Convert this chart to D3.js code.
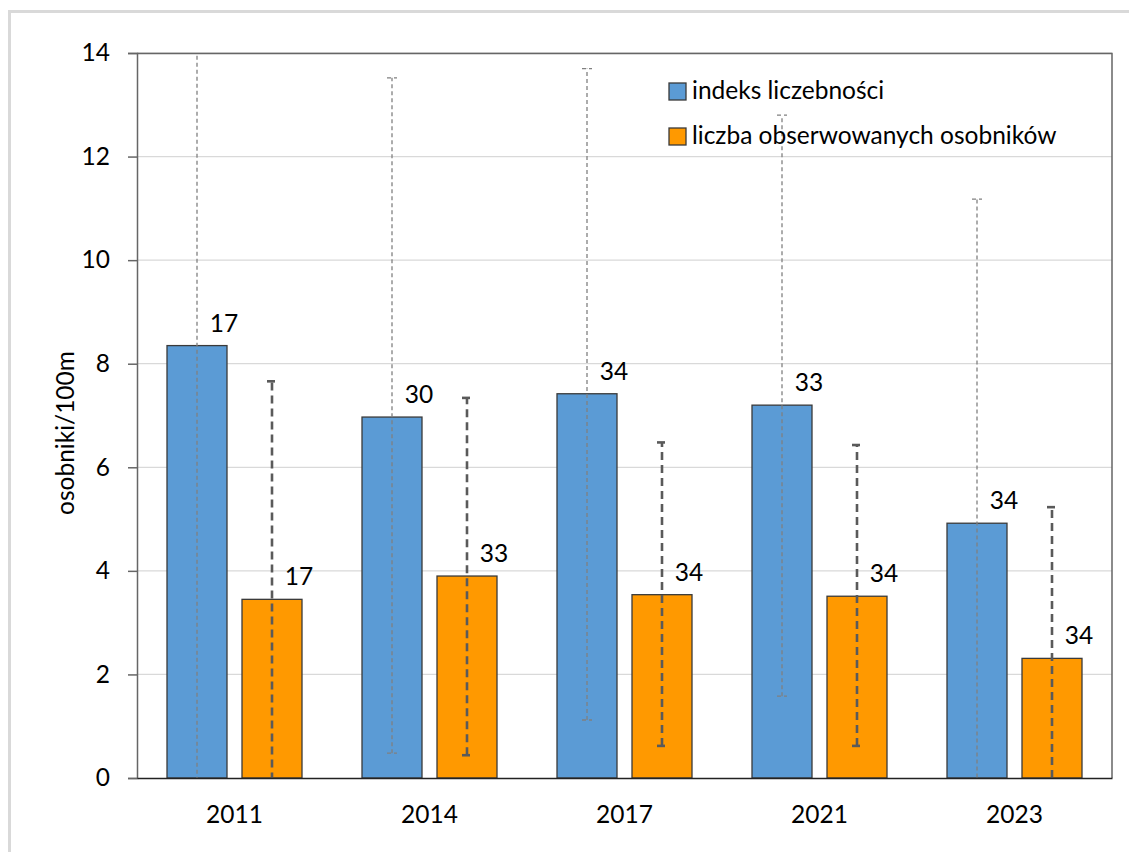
<!DOCTYPE html>
<html>
<head>
<meta charset="utf-8">
<script src="https://cdn.jsdelivr.net/npm/d3@7"></script>
<style>
  body { margin: 0; background: #fff; }
  svg text { font-family: Lato, "Open Sans", sans-serif; fill: #000; }
</style>
</head>
<body>
<div id="chart"></div>
<script>
// categories and series
const years = ['2011', '2014', '2017', '2021', '2023'];
const seriesNames = ['indeks liczebności', 'liczba obserwowanych osobników'];

const indeks     = [8.35, 6.97, 7.42, 7.20, 4.92];
const indeksLow  = [-1.0, 0.48, 1.12, 1.58, -0.8];
const indeksHigh = [15.5, 13.52, 13.70, 12.80, 11.18];
const indeksN    = [17, 30, 34, 33, 34];

const liczba     = [3.45, 3.90, 3.54, 3.51, 2.31];
const liczbaLow  = [-0.3, 0.44, 0.62, 0.62, -0.5];
const liczbaHigh = [7.66, 7.34, 6.48, 6.43, 5.23];
const liczbaN    = [17, 33, 34, 34, 34];

const yTicks = [0, 2, 4, 6, 8, 10, 12, 14];

// layout
const W = 1129, H = 852;
const margin = { top: 53, right: 17, bottom: 74, left: 137 };
const pw = W - margin.left - margin.right,
      ph = H - margin.top - margin.bottom;

const colors = ['#5b9bd5', '#ff9900'];

const svg = d3.select('#chart').append('svg')
    .attr('width', W)
    .attr('height', H);

// outer chart frame
svg.append('rect')
  .attr('x', 9.5).attr('y', 11.5)
  .attr('width', W + 20).attr('height', H + 20)
  .attr('fill', 'none')
  .attr('stroke', '#d9d9d9')
  .attr('stroke-width', 3);

const g = svg.append('g')
    .attr('transform', `translate(${margin.left},${margin.top})`);

// scales
const x = d3.scaleBand().domain(years).range([0, pw]);
const xs = d3.scaleBand().domain([0, 1])
    .range([x.bandwidth() * 30 / 195, x.bandwidth() * 165 / 195])
    .paddingInner(0.2);
const y = d3.scaleLinear().domain([0, 14]).range([ph, 0]);

// gridlines
g.append('g')
  .selectAll('line')
  .data(yTicks.slice(1))
  .join('line')
    .attr('x1', 0).attr('x2', pw)
    .attr('y1', d => y(d)).attr('y2', d => y(d))
    .attr('stroke', '#d9d9d9')
    .attr('stroke-width', 1.3);

// plot frame (top + right)
g.append('path')
  .attr('d', `M0,0.5H${pw}V${ph}`)
  .attr('fill', 'none')
  .attr('stroke', '#666')
  .attr('stroke-width', 1.5);

// build rows
const rows = years.map((yr, i) => ([
  { yr, s: 0, v: indeks[i], lo: indeksLow[i], hi: indeksHigh[i], n: indeksN[i] },
  { yr, s: 1, v: liczba[i], lo: liczbaLow[i], hi: liczbaHigh[i], n: liczbaN[i] }
])).flat();

const cx = d => x(d.yr) + xs(d.s) + xs.bandwidth() / 2;

// bars
g.append('g')
  .selectAll('rect')
  .data(rows)
  .join('rect')
    .attr('x', d => x(d.yr) + xs(d.s))
    .attr('y', d => y(d.v))
    .attr('width', xs.bandwidth())
    .attr('height', d => y(0) - y(d.v))
    .attr('fill', d => colors[d.s])
    .attr('stroke', '#3a3a3a')
    .attr('stroke-width', 1.3);

// error bars, clipped to the plot area
svg.append('clipPath').attr('id', 'plotclip')
  .append('rect').attr('x', 0).attr('y', 0).attr('width', pw).attr('height', ph);

const errStyle = [
  { stroke: '#808080', width: 1.3, dash: '4,3' },
  { stroke: '#5a5a5a', width: 2.6, dash: '8,5' }
];

const errG = g.append('g').attr('clip-path', 'url(#plotclip)')
  .selectAll('g')
  .data(rows)
  .join('g')
    .attr('stroke', d => errStyle[d.s].stroke)
    .attr('stroke-width', d => errStyle[d.s].width)
    .attr('stroke-dasharray', d => errStyle[d.s].dash)
    .attr('fill', 'none');

errG.append('line')
  .attr('x1', cx).attr('x2', cx)
  .attr('y1', d => y(d.lo)).attr('y2', d => y(d.hi));

errG.append('line')
  .attr('x1', d => cx(d) - 5).attr('x2', d => cx(d) + 5)
  .attr('y1', d => y(d.lo)).attr('y2', d => y(d.lo))
  .attr('stroke-dasharray', null);

errG.append('line')
  .attr('x1', d => cx(d) - 5).attr('x2', d => cx(d) + 5)
  .attr('y1', d => y(d.hi)).attr('y2', d => y(d.hi))
  .attr('stroke-dasharray', null);

// data labels (sample size)
g.append('g')
  .selectAll('text')
  .data(rows)
  .join('text')
    .attr('x', d => cx(d) + 27)
    .attr('y', d => y(d.v) - 14)
    .attr('text-anchor', 'middle')
    .style('font-size', '24.5px')
    .text(d => d.n);

// y axis
const yAxis = g.append('g')
  .call(d3.axisLeft(y).tickValues(yTicks).tickSize(9).tickPadding(18));
yAxis.select('.domain').attr('stroke', '#666').attr('stroke-width', 1.5);
yAxis.selectAll('.tick line').attr('stroke', '#666').attr('stroke-width', 1.5);
yAxis.selectAll('text')
  .style('font-size', '24.5px')
  .style('font-family', 'Lato, sans-serif')
  .attr('fill', '#000');

// x axis
const xAxis = g.append('g')
  .attr('transform', `translate(0,${ph})`)
  .call(d3.axisBottom(x).tickSize(0).tickPadding(28));
xAxis.select('.domain').attr('stroke', '#222').attr('stroke-width', 1.5);
xAxis.selectAll('text')
  .style('font-size', '24.5px')
  .style('font-family', 'Lato, sans-serif')
  .attr('fill', '#000');

// y title
svg.append('text')
  .attr('transform', `translate(74,433) rotate(-90)`)
  .attr('text-anchor', 'middle')
  .style('font-size', '24.5px')
  .text('osobniki/100m');

// legend
const legend = svg.append('g')
  .attr('transform', 'translate(669,83)');

const li = legend.selectAll('g')
  .data(seriesNames)
  .join('g')
    .attr('transform', (d, i) => `translate(0,${i * 45})`);

li.append('rect')
  .attr('width', 17).attr('height', 17)
  .attr('fill', (d, i) => colors[i])
  .attr('stroke', '#3a3a3a')
  .attr('stroke-width', 1.3);

li.append('text')
  .attr('x', 23)
  .attr('y', 16)
  .style('font-size', '24.5px')
  .text(d => d);
</script>
</body>
</html>
